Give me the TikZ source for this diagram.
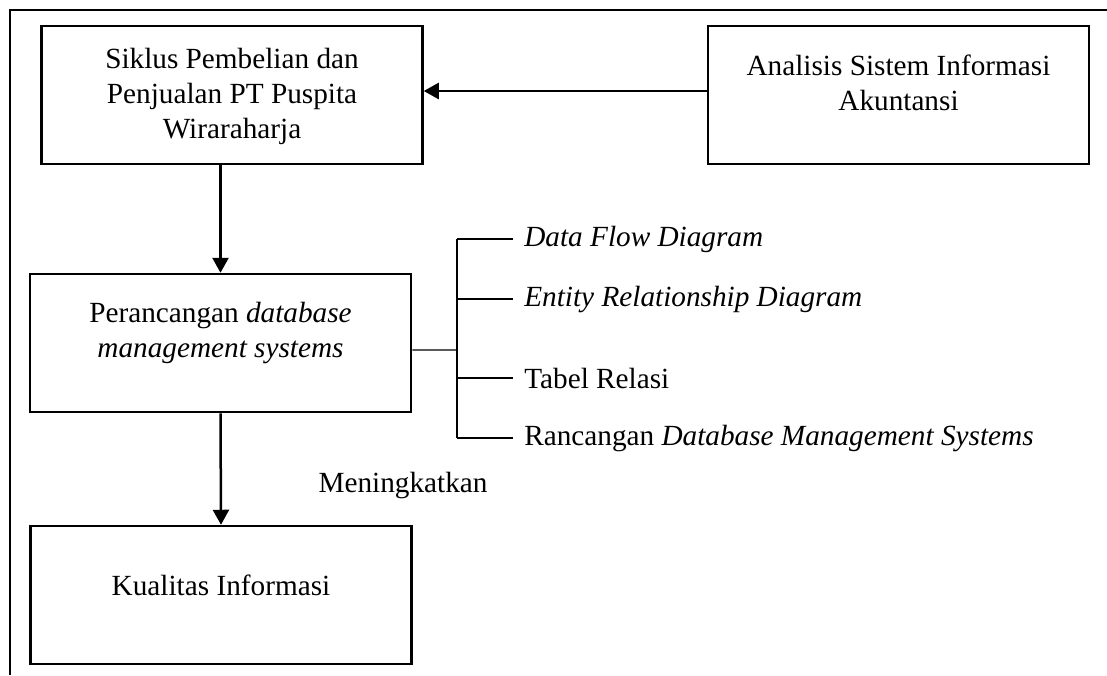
\documentclass[tikz,border=0pt]{standalone}
\usepackage{fontspec}
\setmainfont{Liberation Serif}
\usetikzlibrary{arrows.meta, positioning}

\begin{document}
\begin{tikzpicture}[x=0.4pt, y=-0.4pt,
    font=\fontsize{11.7}{14}\selectfont,
    box/.style={draw, line width=1pt, minimum width=152.4pt, minimum height=55.2pt, inner sep=0pt},
    arr/.style={line width=1pt, -{Triangle[length=6pt, width=6.4pt]}},
    brace/.style={line width=0.5pt}]
    \useasboundingbox (0,0) rectangle (1107,675);
    \draw[line width=1pt] (10,675) -- (10,10) -- (1107,10);

    \node[box, label={[align=center, yshift=-0.6pt]center:{Siklus Pembelian dan\\Penjualan PT Puspita\\Wiraraharja}}] (sik) at (232,95) {};
    \node[box, label={[align=center, yshift=5pt]center:{Analisis Sistem Informasi\\Akuntansi}}] (ana) at (898.5,95) {};
    \node[box, label={[align=center, yshift=4pt]center:{Perancangan \textit{database}\\\textit{management systems}}}] (per) at (220.5,343) {};
    \node[box, label={[yshift=4pt]center:Kualitas Informasi}] (kua) at (221,595) {};
    \node (mng) at (403,485) {Meningkatkan};

    \coordinate (brk) at (457,350);
    \coordinate (b1) at (513,239);
    \coordinate (b2) at (513,299);
    \coordinate (b3) at (513,378);
    \coordinate (b4) at (513,438);
    \node[right=1pt of b1] (dfd) {\textit{Data Flow Diagram}};
    \node[right=1pt of b2] (erd) {\textit{Entity Relationship Diagram}};
    \node[right=1pt of b3] (tbl) {Tabel Relasi};
    \node[right=1pt of b4] (dbms) {Rancangan \textit{Database Management Systems}};

    \draw[arr] ([yshift=1.6pt]ana.west) -- ([yshift=1.6pt]sik.east);
    \draw[arr] (sik.south -| per.north) -- (per.north);
    \draw[arr] (per.south) -- (kua.north);

    \draw[brace] ([yshift=-2.8pt]per.east) -- (brk);
    \draw[brace] (brk |- b1) -- (brk |- b4);
    \foreach \b in {b1,b2,b3,b4}
        \draw[brace] (brk |- \b) -- (\b);
\end{tikzpicture}
\end{document}
